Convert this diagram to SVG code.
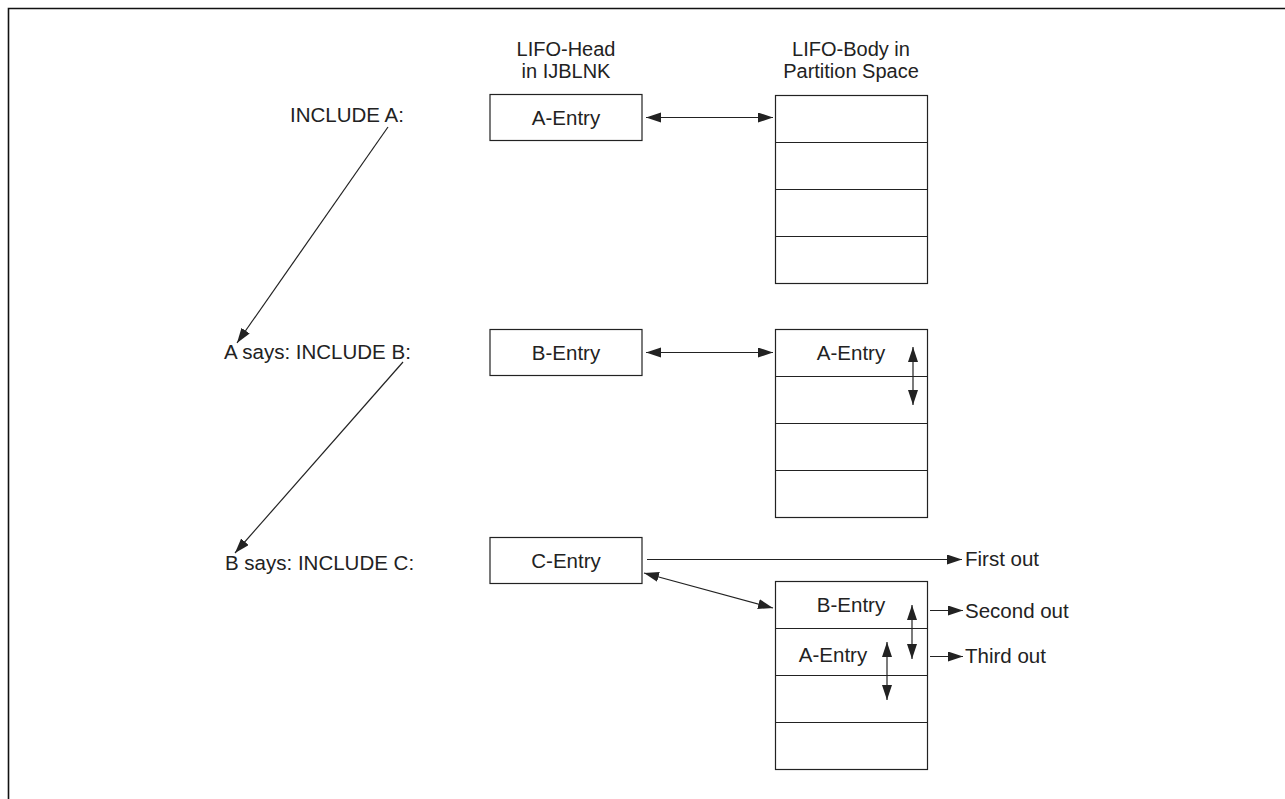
<svg xmlns="http://www.w3.org/2000/svg" width="1285" height="799" viewBox="0 0 1285 799">
<style>
.box{fill:#fff;stroke:#222;stroke-width:1.2}
.sep{stroke:#222;stroke-width:1.2}
.t{font-family:"Liberation Sans",Arial,sans-serif;font-size:20.5px;fill:#222}
.h{font-size:20px}
.c{text-anchor:middle}
.ln{stroke:#222;stroke-width:1.2;fill:none}
.a1{marker-end:url(#ah)}
.a2{marker-start:url(#ah);marker-end:url(#ah)}
</style>
<defs>
<marker id="ah" markerUnits="userSpaceOnUse" markerWidth="16" markerHeight="11" refX="15" refY="5" orient="auto-start-reverse">
<path d="M0,0 L15,5 L0,10 z" fill="#222"/>
</marker>
</defs>
<rect width="1285" height="799" fill="#fff"/>
<path d="M8.5,799 V8.5 H1285" fill="none" stroke="#111" stroke-width="1.6"/>

<g id="headers">
<text class="t h c" x="566" y="56">LIFO-Head</text>
<text class="t h c" x="566" y="78">in IJBLNK</text>
<text class="t h c" x="851" y="56">LIFO-Body in</text>
<text class="t h c" x="851" y="78">Partition Space</text>
</g>

<g id="label-include-a"><text class="t" x="290" y="122">INCLUDE A:</text></g>
<g id="label-include-b"><text class="t" x="224" y="359">A says: INCLUDE B:</text></g>
<g id="label-include-c"><text class="t" x="225" y="570">B says: INCLUDE C:</text></g>

<g id="head-a"><rect class="box" x="490" y="94.5" width="152" height="46"/><text class="t c" x="566" y="125">A-Entry</text></g>
<g id="head-b"><rect class="box" x="490" y="329.5" width="152" height="46"/><text class="t c" x="566" y="360">B-Entry</text></g>
<g id="head-c"><rect class="box" x="490" y="537.5" width="152" height="46"/><text class="t c" x="566" y="568">C-Entry</text></g>

<g id="body-1">
<rect class="box" x="775.5" y="95.5" width="152" height="188"/>
<line class="sep" x1="775.5" y1="142.5" x2="927.5" y2="142.5"/>
<line class="sep" x1="775.5" y1="189.5" x2="927.5" y2="189.5"/>
<line class="sep" x1="775.5" y1="236.5" x2="927.5" y2="236.5"/>
</g>
<g id="body-2">
<rect class="box" x="775.5" y="329.5" width="152" height="188"/>
<line class="sep" x1="775.5" y1="376.5" x2="927.5" y2="376.5"/>
<line class="sep" x1="775.5" y1="423.5" x2="927.5" y2="423.5"/>
<line class="sep" x1="775.5" y1="470.5" x2="927.5" y2="470.5"/>
<text class="t c" x="851" y="360">A-Entry</text>
</g>
<g id="body-3">
<rect class="box" x="775.5" y="581.5" width="152" height="188"/>
<line class="sep" x1="775.5" y1="628.5" x2="927.5" y2="628.5"/>
<line class="sep" x1="775.5" y1="675.5" x2="927.5" y2="675.5"/>
<line class="sep" x1="775.5" y1="722.5" x2="927.5" y2="722.5"/>
<text class="t c" x="851" y="612">B-Entry</text>
<text class="t c" x="833" y="662">A-Entry</text>
</g>

<g id="out-labels">
<text class="t" x="965" y="566">First out</text>
<text class="t" x="965" y="618">Second out</text>
<text class="t" x="965" y="663">Third out</text>
</g>

<g id="connectors">
<line class="ln a1" x1="388" y1="127" x2="237" y2="343"/>
<line class="ln a1" x1="403" y1="362" x2="235" y2="553"/>
<line class="ln a2" x1="646" y1="117.5" x2="773" y2="117.5"/>
<line class="ln a2" x1="646" y1="352.5" x2="773" y2="352.5"/>
<line class="ln a2" x1="644" y1="573" x2="773" y2="608"/>
<line class="ln a1" x1="647" y1="559.5" x2="962" y2="559.5"/>
<line class="ln a2" x1="913" y1="347" x2="913" y2="405"/>
<line class="ln a2" x1="912" y1="605" x2="912" y2="659"/>
<line class="ln a2" x1="887" y1="642" x2="887" y2="700"/>
<line class="ln a1" x1="930" y1="610.5" x2="963" y2="610.5"/>
<line class="ln a1" x1="930" y1="656.5" x2="963" y2="656.5"/>
</g>
</svg>
